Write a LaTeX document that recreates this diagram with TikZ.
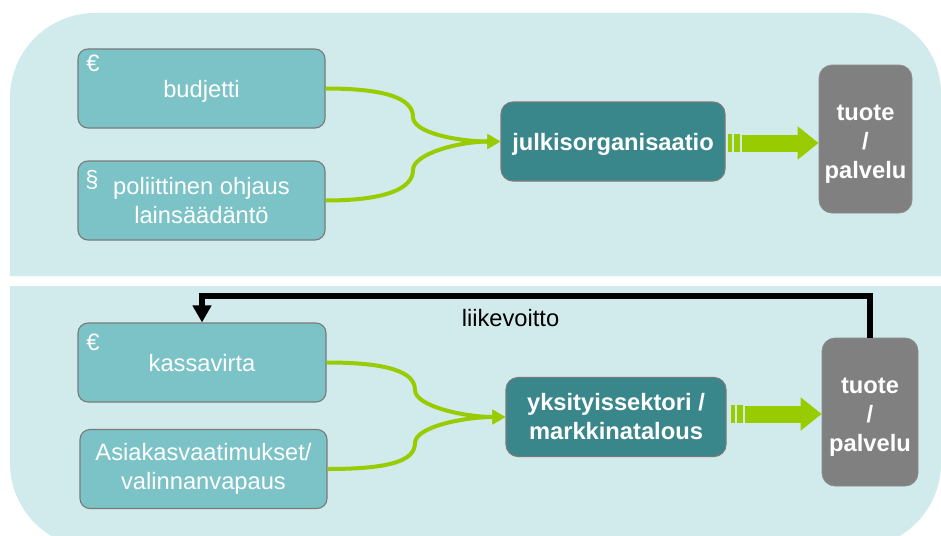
\documentclass[tikz,border=0pt]{standalone}
\usepackage{fontspec}
\setmainfont{Liberation Sans}
\usetikzlibrary{arrows.meta,calc}
\definecolor{panelc}{RGB}{209,234,235}
\definecolor{boxc}{RGB}{123,195,198}
\definecolor{bordc}{RGB}{122,122,122}
\definecolor{darkc}{RGB}{58,135,139}
\definecolor{grayc}{RGB}{128,128,128}
\definecolor{grayb}{RGB}{140,140,140}
\definecolor{greenc}{RGB}{153,204,0}
\newcommand\fsz{\fontsize{23.7}{29}\selectfont}
\tikzset{
  inbox/.style={rectangle, rounded corners=10pt, fill=boxc, draw=bordc, line width=1.1pt,
    minimum width=247pt, minimum height=79pt, inner sep=0pt, text=white, font=\fsz, align=center},
  orgbox/.style={rectangle, rounded corners=12pt, fill=darkc, draw=bordc, line width=1.1pt,
    minimum height=79pt, inner sep=0pt, text=white, font=\fsz\bfseries, align=center},
  prodbox/.style={rectangle, rounded corners=13pt, fill=grayc, draw=grayb, line width=0.8pt,
    minimum height=148pt, inner sep=0pt},
  prodtext/.style={text=white, font=\fsz\bfseries, align=center, inner sep=0pt},
  oneline/.style={text depth=0pt},
  sym/.style={text=white, font=\fsz, inner sep=0pt},
  gline/.style={draw=greenc, line width=4pt, -{Triangle[length=13pt,width=14pt]}},
  bigarrow/.style={draw=greenc, line width=17pt, -{Triangle[length=21pt,width=32pt]}},
  fbline/.style={draw=black, line width=6pt, -{Triangle[length=17pt,width=18pt]}},
}
\begin{document}
\begin{tikzpicture}[x=1pt,y=-1pt]
\useasboundingbox (0,0) rectangle (941,535);
\clip (0,0) rectangle (941,535);
% panels
\fill[panelc] (10,276) -- (10,98) arc[start angle=180,end angle=90,radius=85pt]
  -- (861,13) arc[start angle=90,end angle=0,radius=80pt] -- (941,276) -- cycle;
\fill[panelc] (10,286) -- (941,286) -- (941,463) arc[start angle=0,end angle=-90,radius=85pt]
  -- (95,548) arc[start angle=270,end angle=180,radius=85pt] -- cycle;

% top panel nodes
\node[inbox, oneline] (b) at (201.5,88.5) {budjetti};
\node[inbox] (p) at (201.5,200.5) {poliittinen ohjaus\\lainsäädäntö};
\node[orgbox, oneline, minimum width=224pt] (j) at (613,141.5) {julkisorganisaatio};
\node[prodbox, minimum width=93pt,
  label={[prodtext, yshift=-5pt]center:{tuote\\/\\palvelu}}] (t1) at (865.5,139) {};
\node[sym] (e1) at (93,63) {€};
\node[sym] (s1) at (92,180) {§};

% top connectors
\coordinate (m1) at (413,117);
\coordinate (m2) at (413,170);
\draw[gline] (b.east) .. controls +(62,0) and +(0,-18) .. (m1)
  .. controls +(0,16) and +(-42,0) .. (j.west);
\draw[gline] (p.east) .. controls +(62,0) and +(0,18) .. (m2)
  .. controls +(0,-16) and +(-42,0) .. (j.west);
\fill[greenc] ($(j.east)+(2,-7.5)$) rectangle ($(j.east)+(6,10.5)$);
\fill[greenc] ($(j.east)+(8,-7.5)$) rectangle ($(j.east)+(14,10.5)$);
\draw[bigarrow] ($(j.east)+(16,1.5)$) -- ($(t1.west |- j.east)+(0,1.5)$);

% bottom panel nodes
\node[inbox, oneline, minimum width=248pt] (k) at (202,362.5) {kassavirta};
\node[inbox] (a) at (203.5,469) {Asiakasvaatimukset/\\valinnanvapaus};
\node[orgbox, minimum width=220pt] (y) at (616,417) {yksityissektori /\\markkinatalous};
\node[prodbox, minimum width=96pt,
  label={[prodtext, yshift=-5pt]center:{tuote\\/\\palvelu}}] (t2) at (870,412) {};
\node[sym] (e2) at (93,342) {€};

% bottom connectors
\coordinate (m3) at (415,390);
\coordinate (m4) at (415,443);
\draw[gline] (k.east) .. controls +(62,0) and +(0,-18) .. (m3)
  .. controls +(0,16) and +(-42,0) .. (y.west);
\draw[gline] (a.east) .. controls +(62,0) and +(0,18) .. (m4)
  .. controls +(0,-16) and +(-42,0) .. (y.west);
\fill[greenc] ($(y.east)+(4,-12)$) rectangle ($(y.east)+(8,6)$);
\fill[greenc] ($(y.east)+(10,-12)$) rectangle ($(y.east)+(16,6)$);
\draw[bigarrow] ($(y.east)+(18,-3)$) -- ($(t2.west |- y.east)+(0,-3)$);

% feedback
\draw[fbline] (t2.north) -- ++(0,-42) -| (k.north);
\node[font=\fsz, inner sep=0pt] (lv) at (510.5,318.5) {liikevoitto};
\end{tikzpicture}
\end{document}
